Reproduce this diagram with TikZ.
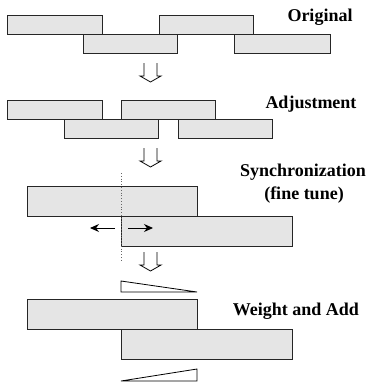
\documentclass[tikz,border=0pt]{standalone}
\usepackage{fontspec}
\setmainfont{Liberation Serif}
\usepackage{tikz}
\usetikzlibrary{arrows.meta}

\tikzset{
  frame/.style={fill=black!10, draw=black!85, line width=0.9pt},
  lbl/.style={font=\fontsize{18}{22}\selectfont\bfseries, inner sep=0pt, anchor=base},
  wedge/.style={draw=black, fill=white, line width=0.8pt},
  tunearrow/.style={-{Stealth[length=9pt,width=8pt]}, line width=1pt}
}

\begin{document}
\begin{tikzpicture}[x=1pt, y=-1pt]
   \useasboundingbox (0,0) rectangle (369,383);

   % original frames
   \draw[frame] (7,15) rectangle (102,34);
   \draw[frame] (159,15) rectangle (253,34);
   \draw[frame] (83,34) rectangle (177,53);
   \draw[frame] (234,34) rectangle (330,53);
   \node[lbl] (orig) at (320,21) {Original};

   % adjusted frames
   \draw[frame] (7,100) rectangle (102,119);
   \draw[frame] (121,100) rectangle (215,119);
   \draw[frame] (64,119) rectangle (158,138);
   \draw[frame] (178,119) rectangle (272,138);
   \node[lbl] (adj) at (311,108) {Adjustment};

   % hollow arrows between the steps
   \foreach \t in {63,148,252}
      \draw[line width=0.8pt] (144,\t) -- (144,\t+13) -- (140,\t+13) -- (150.5,\t+19)
            -- (161,\t+13) -- (157,\t+13) -- (157,\t);

   % synchronization
   \draw[frame] (27,186) rectangle (197,216);
   \draw[frame] (121,216) rectangle (292,246);
   \draw[black!60, line width=0.8pt, dotted] (121,173) -- (121,262);
   \draw[tunearrow] (115,228) -- (90,228);
   \draw[tunearrow] (128,228) -- (153,228);
   \node[lbl] (sync) at (303,176) {Synchronization};
   \node[lbl] (fine) at (304,199) {(fine tune)};

   % weight and add
   \draw[wedge] (121,281) -- (121,292) -- (197,292) -- cycle;
   \draw[frame] (27,299) rectangle (197,329);
   \draw[frame] (121,329) rectangle (292,359);
   \draw[wedge] (121,381) -- (197,369) -- (197,381) -- cycle;
   \node[lbl] (wadd) at (296,315) {Weight and Add};
\end{tikzpicture}
\end{document}
